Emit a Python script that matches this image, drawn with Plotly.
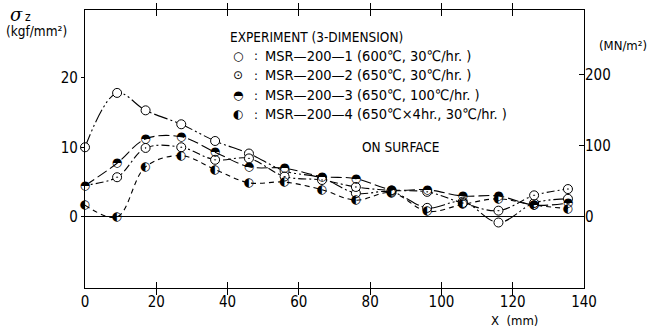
import plotly.graph_objects as go

# ---- data (kgf/mm^2 vs X mm) ----
x_pos = [0, 9, 17, 27, 36.5, 46, 56, 66.5, 76, 86, 96, 106, 116, 126, 135.5]
x_pos_s2 = [-1.5, 9, 17, 27, 36.5, 46, 56, 66.5, 76, 86, 96, 106, 116, 126, 135.5]
s1_open = [10.0, 17.8, 15.3, 13.3, 10.9, 9.1, 6.6, 5.6, 3.4, 3.6, 1.3, 2.2, -0.8, 2.0, 2.6]
s2_dot = [4.5, 5.7, 9.9, 10.0, 8.2, 8.4, 5.8, 5.3, 4.3, 3.8, 3.6, 2.0, 0.9, 3.1, 4.0]
s3_top = [4.5, 7.7, 11.2, 11.5, 9.3, 7.2, 7.0, 5.8, 5.5, 3.9, 3.9, 3.0, 3.0, 1.7, 2.0]
s4_left = [1.7, 0.0, 7.2, 8.8, 6.8, 4.9, 5.0, 3.9, 2.4, 3.5, 0.8, 1.8, 2.6, 1.7, 1.2]

legend_labels = [
    "MSR\u2014200\u20141 (600\u2103, 30\u2103/hr. )",
    "MSR\u2014200\u20142 (650\u2103, 30\u2103/hr. )",
    "MSR\u2014200\u20143 (650\u2103, 100\u2103/hr. )",
    "MSR\u2014200\u20144 (650\u2103\u00d74hr., 30\u2103/hr. )",
]
x_ticks = [0, 20, 40, 60, 80, 100, 120, 140]
y_ticks = [0, 10, 20]
y2_ticks = [0, 100, 200]
KGF_TO_MN = 9.80665
Y_RANGE = [-10.2, 29.7]

W, H = 648, 327
L, R, T, B = 85, 64, 10, 39
FONT = "Liberation Sans Narrow, DejaVu Sans Condensed, Arial Narrow, sans-serif"
SYMF = "DejaVu Sans"

fig = go.Figure()

def curve(x, y, dash, width=1.1):
    fig.add_trace(go.Scatter(x=x, y=y, mode="lines",
                             line=dict(color="black", width=width, dash=dash, shape="spline", smoothing=1.0),
                             showlegend=False, hoverinfo="skip"))

curve(x_pos, s1_open, "14px,3px,2px,3px,2px,3px")
curve(x_pos_s2, s2_dot, "8px,3px,2px,3px")
curve(x_pos, s3_top, "11px,4px")
curve(x_pos, s4_left, "5px,4px")

fig.add_trace(go.Scatter(x=x_pos, y=s1_open, mode="markers", cliponaxis=False,
                         marker=dict(symbol="circle", size=9, color="white", line=dict(color="black", width=1)),
                         showlegend=False))
fig.add_trace(go.Scatter(x=x_pos_s2, y=s2_dot, mode="markers", cliponaxis=False,
                         marker=dict(symbol="circle-dot", size=9, color="white", line=dict(color="black", width=1)),
                         showlegend=False))
for xs, ys, glyph in [(x_pos, s3_top, "\u25d3"), (x_pos, s4_left, "\u25d0")]:
    fig.add_trace(go.Scatter(x=xs, y=ys, mode="text", text=[glyph] * len(xs), textposition="middle center",
                             cliponaxis=False, textfont=dict(family=SYMF, size=12, color="black"),
                             showlegend=False))

# right axis helper trace
fig.add_trace(go.Scatter(x=[0], y=[0], yaxis="y2", mode="markers", marker=dict(opacity=0),
                         showlegend=False, hoverinfo="skip"))

pw, ph = W - L - R, H - T - B

def px(xp):
    return (xp - L) / pw

def py(yp):
    return (H - B - yp) / ph

def ann(text, xp, yp, size=12, xanchor="left", family=FONT):
    fig.add_annotation(text=text, x=px(xp), y=py(yp), xref="paper", yref="paper", showarrow=False,
                       xanchor=xanchor, yanchor="middle", font=dict(family=family, size=size, color="black"))

ann("<i>\u03c3</i>", 8, 14, size=18, family="DejaVu Serif")
ann("z", 23, 17, size=12)
ann("(kgf/mm\u00b2)", 4, 31, size=13.5)
ann("(MN/m\u00b2)", 597, 45, size=13)
ann("EXPERIMENT (3-DIMENSION)", 228, 37, size=13.5)
syms = ["\u25cb", "\u2299", "\u25d3", "\u25d0"]
rows = [56, 75, 95, 114]
for s, lab, yy in zip(syms, legend_labels, rows):
    ann(s, 231, yy, size=12, family=SYMF)
    ann(":", 252, yy, size=13)
    ann(lab, 263, yy, size=14.5)
ann("ON SURFACE", 360, 147, size=13.5)
ann("X  (mm)", 489, 320, size=13)

fig.update_layout(
    width=W, height=H, margin=dict(l=L, r=R, t=T, b=B),
    paper_bgcolor="white", plot_bgcolor="white",
    font=dict(family=FONT, size=15, color="black"),
    xaxis=dict(range=[0, 140], tickvals=x_ticks, ticks="inside", ticklen=6, tickcolor="black",
               showline=True, linecolor="black", linewidth=1.2, mirror="allticks", showgrid=False, zeroline=False,
               tickfont=dict(size=15)),
    yaxis=dict(range=Y_RANGE, tickvals=y_ticks, ticks="outside", ticklen=3, tickcolor="black",
               showline=True, linecolor="black", linewidth=1.2, mirror=True, showgrid=False,
               zeroline=True, zerolinecolor="black", zerolinewidth=1.2, tickfont=dict(size=15)),
    yaxis2=dict(range=[Y_RANGE[0] * KGF_TO_MN, Y_RANGE[1] * KGF_TO_MN], tickvals=y2_ticks, overlaying="y",
                side="right", ticks="inside", ticklen=5, tickcolor="black", showline=False, showgrid=False,
                zeroline=False, tickfont=dict(size=15)),
    showlegend=False,
)

fig.write_html("out.html")
